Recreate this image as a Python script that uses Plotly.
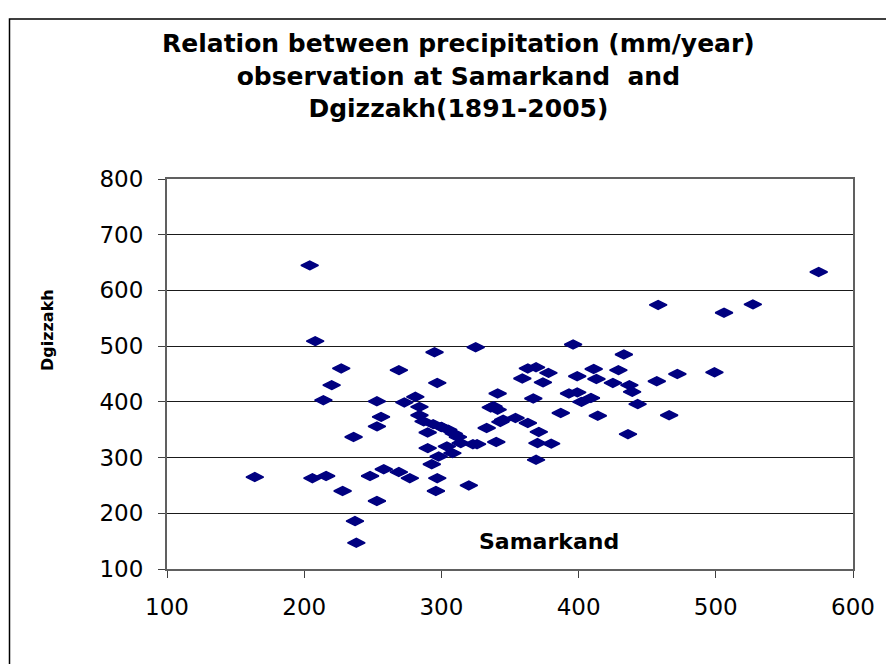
import plotly.graph_objects as go

# Annual precipitation (mm/year)
samarkand = [164, 204, 208, 206, 216, 214, 220, 227, 228, 236, 237, 238, 248, 253, 258,
             269, 277, 253, 256, 253, 269, 273, 281, 284, 284, 287, 290, 295, 297, 294,
             300, 305, 309, 312, 290, 293, 298, 304, 308, 297, 296, 314, 323, 320, 325,
             326, 333, 336, 341, 341, 340, 345, 354, 363, 371, 370, 380, 369, 359, 363,
             369, 378, 374, 367, 387, 393, 399, 396, 399, 402, 409, 411, 413, 414, 425,
             429, 433, 437, 439, 443, 436, 457, 458, 466, 472, 499, 506, 527, 575, 338,
             343, 300]
dgizzakh = [265, 645, 509, 263, 267, 403, 430, 460, 240, 337, 186, 147, 267, 222, 279,
            274, 263, 401, 373, 356, 457, 399, 409, 391, 376, 365, 345, 489, 434, 360,
            355, 350, 343, 337, 317, 288, 302, 320, 308, 263, 240, 326, 324, 250, 498,
            324, 353, 390, 386, 415, 328, 368, 371, 362, 346, 326, 325, 296, 442, 460,
            462, 452, 435, 406, 380, 415, 417, 503, 446, 400, 407, 459, 441, 375, 434,
            457, 485, 430, 418, 396, 342, 437, 574, 376, 450, 453, 560, 575, 633, 392,
            364, 355]

x_ticks = [100, 200, 300, 400, 500, 600]
y_ticks = [100, 200, 300, 400, 500, 600, 700, 800]

title_lines = ["Relation between precipitation (mm/year)",
               "observation at Samarkand  and",
               "Dgizzakh(1891-2005)"]

FONT = "DejaVu Sans, Arial, sans-serif"
W, H = 894, 664
OFF = 8  # page body margin offset
L, T = 167 - OFF, 179 - OFF
pw, ph = 686, 390
R, B = W - L - pw, H - T - ph


def px2paper_x(px):
    return (px - OFF - L) / pw


def px2paper_y(py):
    return (T + ph - (py - OFF)) / ph


fig = go.Figure()
fig.add_trace(go.Scatter(
    x=samarkand, y=dgizzakh, mode="markers",
    marker=dict(symbol="diamond-wide", size=12.5, color="#000080",
                line=dict(color="#000080", width=1.5)),
    showlegend=False, hoverinfo="x+y"))

annotations = [dict(
    text="<br>".join(f"<b>{s}</b>" for s in title_lines),
    xref="paper", yref="paper", align="center",
    x=px2paper_x(458), y=px2paper_y(76), xanchor="center", yanchor="middle",
    showarrow=False, font=dict(family=FONT, size=25, color="black"))]

annotations.append(dict(
    text="<b>Samarkand</b>", xref="paper", yref="paper",
    x=px2paper_x(549), y=px2paper_y(541), xanchor="center", yanchor="middle",
    showarrow=False, font=dict(family=FONT, size=22, color="black")))
annotations.append(dict(
    text="<b>Dgizzakh</b>", xref="paper", yref="paper", textangle=-90,
    x=px2paper_x(47), y=px2paper_y(330), xanchor="center", yanchor="middle",
    showarrow=False, font=dict(family=FONT, size=16, color="black")))

fig.update_layout(
    width=W, height=H,
    margin=dict(l=L, r=R, t=T, b=B, pad=0),
    paper_bgcolor="white", plot_bgcolor="white",
    font=dict(family=FONT, color="black"),
    annotations=annotations,
    shapes=[dict(type="rect", xref="paper", yref="paper", layer="below",
                 x0=px2paper_x(9.5), x1=px2paper_x(W + 30),
                 y0=px2paper_y(H + 30), y1=px2paper_y(19),
                 line=dict(color="black", width=1.5), fillcolor="rgba(0,0,0,0)")],
    xaxis=dict(range=[100, 600], tickvals=x_ticks, ticktext=[str(v) for v in x_ticks],
               showgrid=False, zeroline=False,
               showline=True, linecolor="#606060", linewidth=2, mirror=True,
               ticks="outside", ticklen=7, tickcolor="#404040", tickwidth=1,
               tickfont=dict(family=FONT, size=23, color="black"),
               ticklabelstandoff=9),
    yaxis=dict(range=[100, 800], tickvals=y_ticks, ticktext=[str(v) for v in y_ticks],
               showgrid=True, gridcolor="#1a1a1a", gridwidth=1, zeroline=False,
               showline=True, linecolor="#606060", linewidth=2, mirror=True,
               ticks="outside", ticklen=7, tickcolor="#404040", tickwidth=1,
               tickfont=dict(family=FONT, size=23, color="black"),
               ticklabelstandoff=10),
)

fig.write_html("out.html")
